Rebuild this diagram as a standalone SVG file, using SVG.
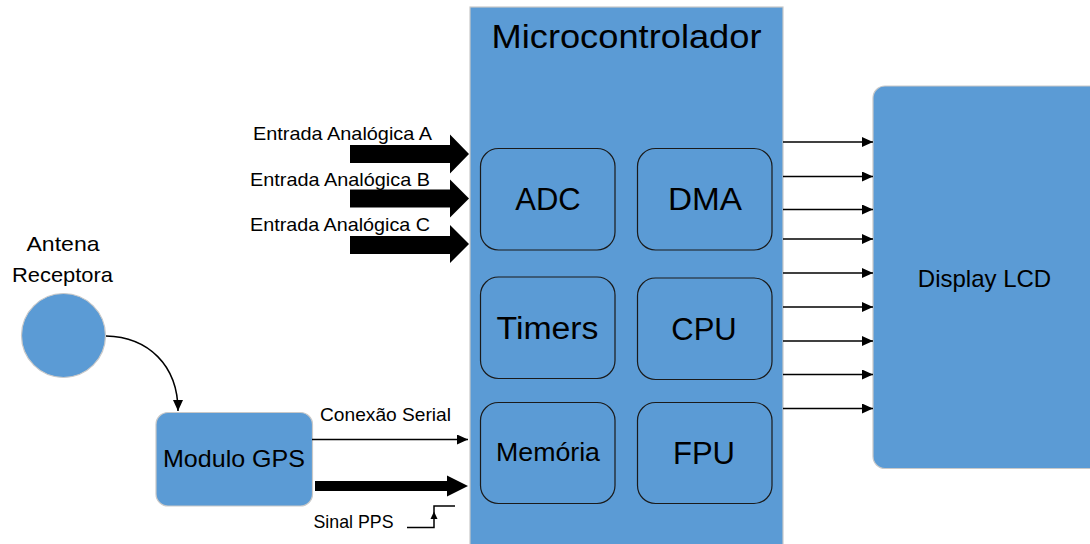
<svg xmlns="http://www.w3.org/2000/svg" width="1090" height="544" viewBox="0 0 1090 544">
  <defs>
    <style>
      .blk { fill: #5B9BD5; stroke: #c9c9c9; stroke-width: 1.2; }
      .sub { fill: none; stroke: #1a1a1a; stroke-width: 1.2; }
      .lbl { font-family: "Liberation Sans", Arial, sans-serif; fill: #000; }
      .big { font-size: 31px; text-anchor: middle; }
      .mid { font-size: 24px; text-anchor: middle; }
      .sm  { font-size: 18.5px; }
      .wire { fill: none; stroke: #000; stroke-width: 1.5; }
      .bus { fill: #000; stroke: none; }
    </style>
    <marker id="tip" viewBox="0 0 11 10" markerWidth="11" markerHeight="10" refX="11" refY="5" orient="auto" markerUnits="userSpaceOnUse">
      <path d="M0,0 L11,5 L0,10 Z" fill="#000"/>
    </marker>
  </defs>

  <rect width="1090" height="544" fill="#fff"/>

  <!-- microcontroller with its internal blocks -->
  <g id="microcontrolador">
    <rect class="blk" x="470" y="7" width="313" height="545"/>
    <text class="lbl" x="626.5" y="48" font-size="33" text-anchor="middle" textLength="270" lengthAdjust="spacingAndGlyphs">Microcontrolador</text>
  </g>
  <g id="adc">
    <rect class="sub" x="480.5" y="148.5" width="134.5" height="101.5" rx="18"/>
    <text class="lbl big" x="548" y="210">ADC</text>
  </g>
  <g id="dma">
    <rect class="sub" x="637.5" y="148.5" width="134.5" height="101.5" rx="18"/>
    <text class="lbl big" x="705" y="210" textLength="74" lengthAdjust="spacingAndGlyphs">DMA</text>
  </g>
  <g id="timers">
    <rect class="sub" x="480.5" y="277" width="134.5" height="101.5" rx="18"/>
    <text class="lbl big" x="547.5" y="339" textLength="102" lengthAdjust="spacingAndGlyphs">Timers</text>
  </g>
  <g id="cpu">
    <rect class="sub" x="637.5" y="278" width="134.5" height="101.5" rx="18"/>
    <text class="lbl big" x="704" y="339.5">CPU</text>
  </g>
  <g id="memoria">
    <rect class="sub" x="480.5" y="402.5" width="134.5" height="101" rx="18"/>
    <text class="lbl" x="548" y="461" font-size="25" text-anchor="middle" textLength="104" lengthAdjust="spacingAndGlyphs">Memória</text>
  </g>
  <g id="fpu">
    <rect class="sub" x="637.5" y="402.5" width="134.5" height="101" rx="18"/>
    <text class="lbl big" x="704" y="463.5">FPU</text>
  </g>

  <!-- display -->
  <g id="display">
    <rect class="blk" x="873" y="86" width="230" height="382.5" rx="12"/>
    <text class="lbl mid" x="984.5" y="286.5">Display LCD</text>
  </g>

  <!-- antenna -->
  <g id="antena">
    <circle class="blk" cx="63.5" cy="335.5" r="42"/>
    <text class="lbl" x="63" y="251" font-size="21" text-anchor="middle" textLength="73" lengthAdjust="spacingAndGlyphs">Antena</text>
    <text class="lbl" x="62.5" y="282" font-size="21" text-anchor="middle" textLength="101" lengthAdjust="spacingAndGlyphs">Receptora</text>
  </g>

  <!-- GPS module -->
  <g id="gps">
    <rect class="blk" x="156" y="412.5" width="156.5" height="93.5" rx="12"/>
    <text class="lbl" x="234" y="467" font-size="24" text-anchor="middle" textLength="142" lengthAdjust="spacingAndGlyphs">Modulo GPS</text>
  </g>

  <!-- signal labels -->
  <g id="rotulos">
    <text class="lbl sm" x="253" y="140" textLength="179" lengthAdjust="spacingAndGlyphs">Entrada Analógica A</text>
    <text class="lbl sm" x="250" y="186" textLength="180" lengthAdjust="spacingAndGlyphs">Entrada Analógica B</text>
    <text class="lbl sm" x="250" y="231" textLength="180" lengthAdjust="spacingAndGlyphs">Entrada Analógica C</text>
    <text class="lbl sm" x="320" y="420.5" textLength="131" lengthAdjust="spacingAndGlyphs">Conexão Serial</text>
    <text class="lbl sm" x="313.5" y="527.5" textLength="80" lengthAdjust="spacingAndGlyphs">Sinal PPS</text>
  </g>

  <!-- connectors -->
  <g id="conexoes">
    <!-- analog inputs (wide arrows) -->
    <polygon class="bus" points="350,145 450,145 450,134.5 469,154 450,173.5 450,163 350,163"/>
    <polygon class="bus" points="350,189.5 450,189.5 450,179.5 469,198.5 450,217.5 450,207.5 350,207.5"/>
    <polygon class="bus" points="350,236 450,236 450,225 469,244 450,263 450,254 350,254"/>

    <!-- antenna to GPS -->
    <path class="wire" d="M106,336 C148,337 178,365 178,411" marker-end="url(#tip)"/>

    <!-- GPS to microcontroller -->
    <line class="wire" x1="312" y1="439.5" x2="468" y2="439.5" marker-end="url(#tip)"/>
    <polygon class="bus" points="315,481 447,481 447,475.5 468,486 447,496.5 447,491 315,491"/>

    <!-- PPS pulse symbol -->
    <path class="wire" d="M407,527.5 H434 V506 H455" stroke-width="1.2"/>
    <polygon class="bus" points="434,511.5 430.5,519 437.5,519"/>

    <!-- data lines to display -->
    <line class="wire" x1="783" y1="142" x2="873" y2="142" marker-end="url(#tip)"/>
    <line class="wire" x1="783" y1="176.5" x2="873" y2="176.5" marker-end="url(#tip)"/>
    <line class="wire" x1="783" y1="209.5" x2="873" y2="209.5" marker-end="url(#tip)"/>
    <line class="wire" x1="783" y1="239" x2="873" y2="239" marker-end="url(#tip)"/>
    <line class="wire" x1="783" y1="273" x2="873" y2="273" marker-end="url(#tip)"/>
    <line class="wire" x1="783" y1="307" x2="873" y2="307" marker-end="url(#tip)"/>
    <line class="wire" x1="783" y1="341" x2="873" y2="341" marker-end="url(#tip)"/>
    <line class="wire" x1="783" y1="374.5" x2="873" y2="374.5" marker-end="url(#tip)"/>
    <line class="wire" x1="783" y1="408.5" x2="873" y2="408.5" marker-end="url(#tip)"/>
  </g>
</svg>
